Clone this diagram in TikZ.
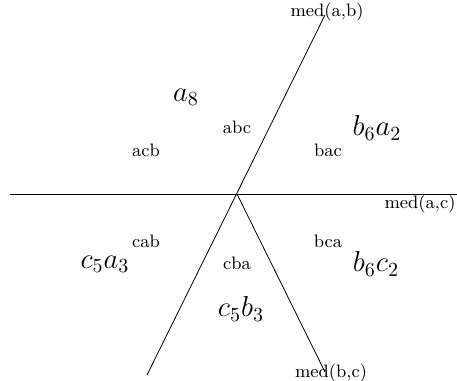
\documentclass[tikz,border=0pt]{standalone}
\usetikzlibrary{positioning}
\tikzset{perm/.style={font=\small, inner sep=0pt},
  region/.style={font=\Large, inner sep=0pt},
  medlbl/.style={font=\small, inner sep=0pt}}

\begin{document}
\begin{tikzpicture}[x=0.5pt, y=-0.5pt]
  \useasboundingbox (0,0) rectangle (457,381);
  % centre and the ends of the three medians
  \coordinate (o) at (237,194);
  \coordinate (acL) at (10,194);
  \coordinate (acR) at (457,194);
  \coordinate (abT) at (325,15);
  \coordinate (abB) at (147,375);
  \coordinate (bcB) at (325,372);
  \draw (acL) -- (acR);
  \draw (abB) -- (abT);
  \draw (o) -- (bcB);
  \node[medlbl] (mab) at (327,12) {med(a,b)};
  \node[medlbl] (mac) at (420,204) {med(a,c)};
  \node[medlbl] (mbc) at (331,373) {med(b,c)};
  % orderings
  \node[perm] (abc) at (237,127) {abc};
  \node[perm] (acb) at (146,150) {acb};
  \node[perm] (bac) at (328,150) {bac};
  \node[perm] (cab) at (146,241) {cab};
  \node[perm] (bca) at (328,241) {bca};
  \node[perm] (cba) at (237,263) {cba};
  % region weights
  \node[region] (ra) at (186,97) {$a_8$};
  \node[region] (rba) at (377,128) {$b_6a_2$};
  \node[region] (rca) at (105,264) {$c_5a_3$};
  \node[region] (rbc) at (376,264) {$b_6c_2$};
  \node[region] (rcb) at (241,309) {$c_5b_3$};
\end{tikzpicture}
\end{document}
